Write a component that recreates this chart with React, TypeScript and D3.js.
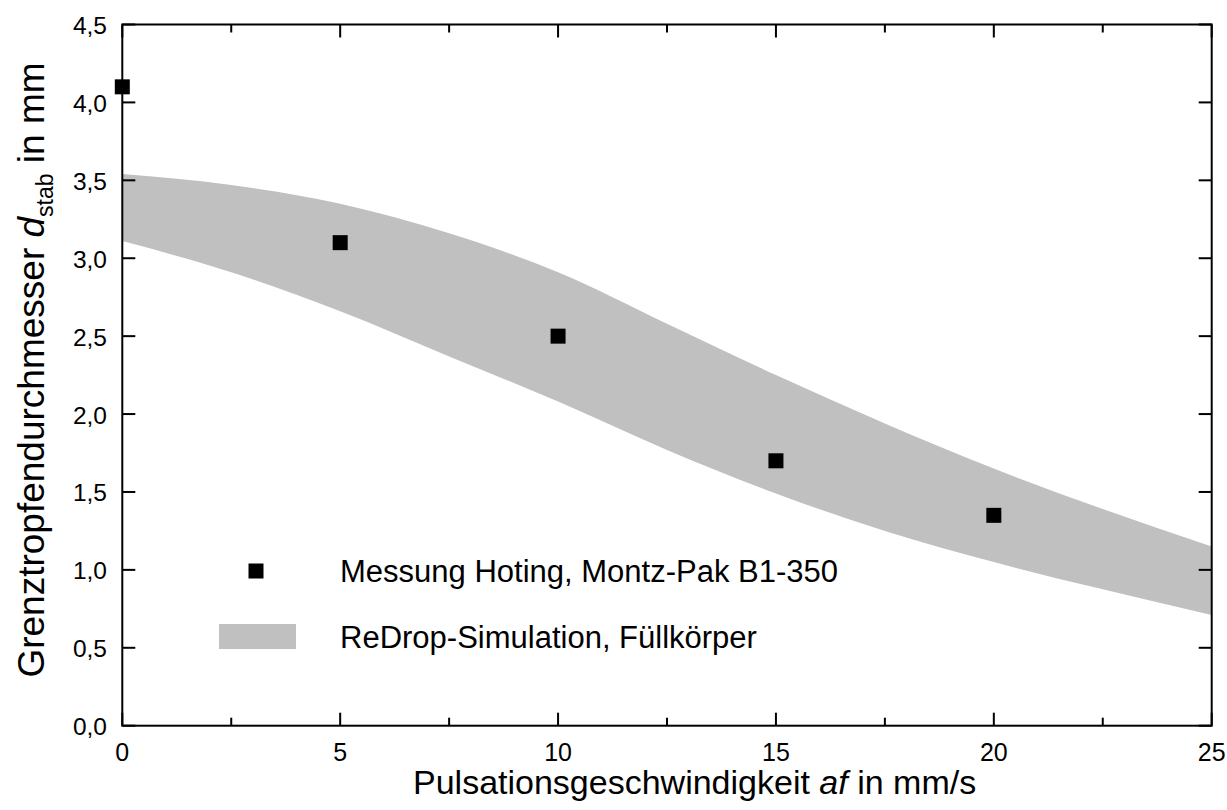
import React, { useEffect, useRef } from "react";
import * as d3 from "d3";

const W = 1227;
const H = 810;

// Measurement points (Messung Hoting, Montz-Pak B1-350)
const measX = [0, 5, 10, 15, 20];
const measY = [4.1, 3.1, 2.5, 1.7, 1.35];

// Simulation band (ReDrop-Simulation, Füllkörper)
const bandX = [0, 2.5, 5, 7.5, 10, 12.5, 15, 17.5, 20, 22.5, 25];
const bandUpper = [3.54, 3.47, 3.35, 3.16, 2.91, 2.58, 2.25, 1.94, 1.65, 1.39, 1.15];
const bandLower = [3.11, 2.91, 2.66, 2.37, 2.08, 1.77, 1.49, 1.25, 1.05, 0.875, 0.71];

const xMajorTicks = [0, 5, 10, 15, 20, 25];
const xMinorTicks = [2.5, 7.5, 12.5, 17.5, 22.5];
const yMajorTicks = [0, 0.5, 1, 1.5, 2, 2.5, 3, 3.5, 4, 4.5];

const legendLabels = ["Messung Hoting, Montz-Pak B1-350", "ReDrop-Simulation, Füllkörper"];

const FONT = "'Liberation Sans', Arial, Helvetica, sans-serif";

export default function App() {
  const ref = useRef<SVGSVGElement | null>(null);

  useEffect(() => {
    document.body.style.margin = "0";
    const svg = d3.select(ref.current);
    svg.selectAll("*").remove();

    const x = d3.scaleLinear().domain([0, 25]).range([122.3, 1211.7]);
    const y = d3.scaleLinear().domain([0, 4.5]).range([725.7, 24.5]);
    const [x0, x1] = x.range();
    const [y0, y1] = y.range();

    const fmt = (v: number) => d3.format(".1f")(v).replace(".", ",");

    // band
    const bandData = bandX.map((v, i) => ({ x: v, lo: bandLower[i], hi: bandUpper[i] }));
    const area = d3
      .area<{ x: number; lo: number; hi: number }>()
      .x((d) => x(d.x))
      .y0((d) => y(d.lo))
      .y1((d) => y(d.hi))
      .curve(d3.curveMonotoneX);
    svg.append("path").attr("d", area(bandData)).attr("fill", "#c0c0c0");

    // frame
    const g = svg.append("g").attr("stroke", "#000").attr("stroke-width", 2).attr("fill", "none");
    g.append("rect").attr("x", x0).attr("y", y1).attr("width", x1 - x0).attr("height", y0 - y1);

    const major = 13;
    const minor = 8;
    xMajorTicks.forEach((t) => {
      g.append("line").attr("x1", x(t)).attr("x2", x(t)).attr("y1", y0).attr("y2", y0 - major);
      g.append("line").attr("x1", x(t)).attr("x2", x(t)).attr("y1", y1).attr("y2", y1 + major);
    });
    xMinorTicks.forEach((t) => {
      g.append("line").attr("x1", x(t)).attr("x2", x(t)).attr("y1", y0).attr("y2", y0 - minor);
      g.append("line").attr("x1", x(t)).attr("x2", x(t)).attr("y1", y1).attr("y2", y1 + minor);
    });
    yMajorTicks.forEach((t) => {
      g.append("line").attr("x1", x0).attr("x2", x0 + major).attr("y1", y(t)).attr("y2", y(t));
      g.append("line").attr("x1", x1).attr("x2", x1 - major).attr("y1", y(t)).attr("y2", y(t));
    });

    // tick labels
    const tl = svg.append("g").attr("font-family", FONT).attr("fill", "#000");
    xMajorTicks.forEach((t) => {
      tl.append("text")
        .attr("x", x(t))
        .attr("y", 760.5)
        .attr("font-size", 25)
        .attr("text-anchor", "middle")
        .text(String(t));
    });
    yMajorTicks.forEach((t) => {
      tl.append("text")
        .attr("x", 107)
        .attr("y", y(t) + 9.5)
        .attr("font-size", 24.5)
        .attr("text-anchor", "end")
        .text(fmt(t));
    });

    // measurement points
    const s = 15;
    svg
      .append("g")
      .selectAll("rect")
      .data(measX.map((v, i) => ({ x: v, y: measY[i] })))
      .join("rect")
      .attr("x", (d) => x(d.x) - s / 2)
      .attr("y", (d) => y(d.y) - s / 2)
      .attr("width", s)
      .attr("height", s)
      .attr("fill", "#000");

    // legend
    const lg = svg.append("g").attr("font-family", FONT).attr("font-size", 31).attr("fill", "#000");
    lg.append("rect").attr("x", 256 - s / 2).attr("y", 571 - s / 2).attr("width", s).attr("height", s).attr("fill", "#000");
    lg.append("text").attr("x", 340).attr("y", 582).text(legendLabels[0]);
    lg.append("rect").attr("x", 219).attr("y", 624).attr("width", 77).attr("height", 25).attr("fill", "#c0c0c0");
    lg.append("text").attr("x", 340).attr("y", 648).text(legendLabels[1]);

    // x title
    const xt = svg
      .append("text")
      .attr("font-family", FONT)
      .attr("font-size", 34)
      .attr("x", 413)
      .attr("y", 794)
      .attr("fill", "#000");
    xt.append("tspan").text("Pulsationsgeschwindigkeit ");
    xt.append("tspan").attr("font-style", "italic").text("af");
    xt.append("tspan").text(" in mm/s");

    // y title
    const yt = svg
      .append("text")
      .attr("font-family", FONT)
      .attr("font-size", 37)
      .attr("text-anchor", "middle")
      .attr("transform", `translate(44,370) rotate(-90)`)
      .attr("fill", "#000");
    yt.append("tspan").text("Grenztropfendurchmesser ");
    yt.append("tspan").attr("font-style", "italic").text("d");
    yt.append("tspan").attr("font-size", 23).attr("dy", 9).text("stab");
    yt.append("tspan").attr("dy", -9).text(" in mm");
  }, []);

  return (
    <svg
      ref={ref}
      width={W}
      height={H}
      viewBox={`0 0 ${W} ${H}`}
      style={{ display: "block", position: "absolute", left: 0, top: 0, background: "#fff" }}
    />
  );
}
